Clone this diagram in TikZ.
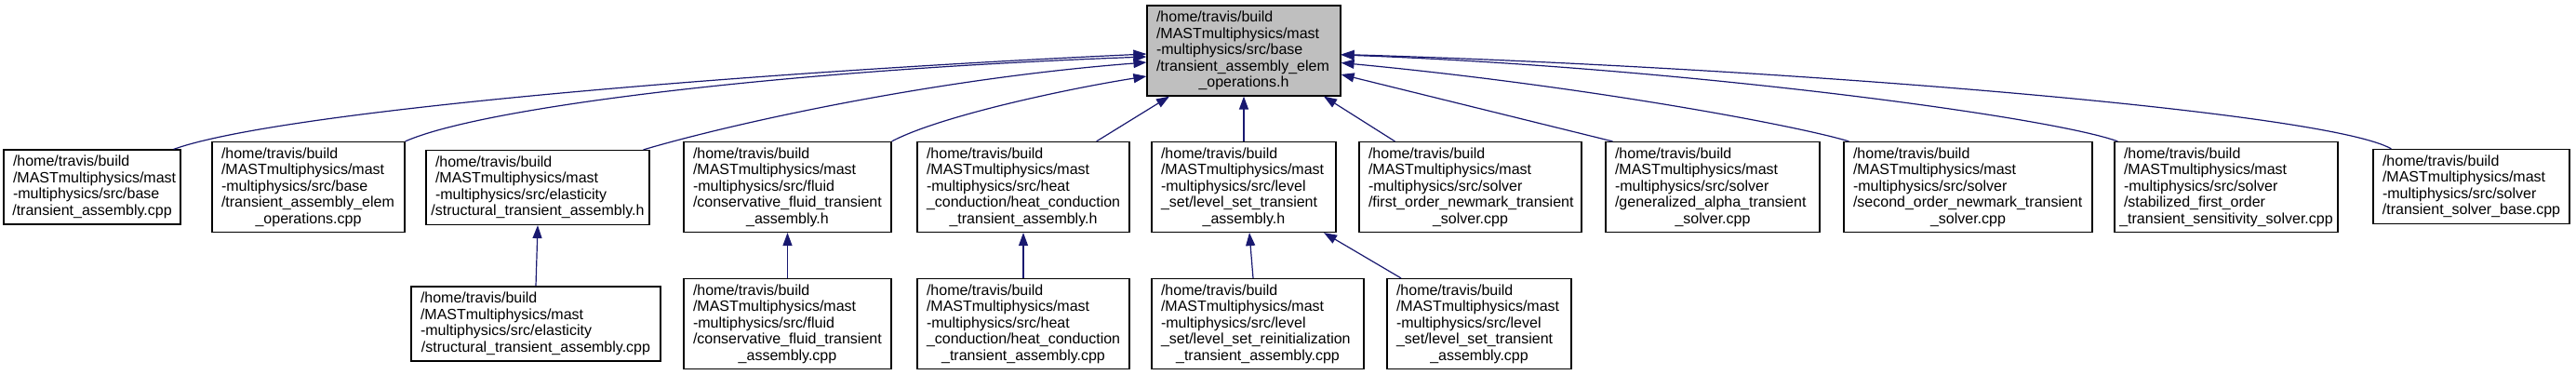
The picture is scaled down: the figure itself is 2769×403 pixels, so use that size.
\documentclass[tikz,border=0pt]{standalone}
\usepackage{fontspec}
\setmainfont{Liberation Sans}
\usetikzlibrary{arrows.meta}

\definecolor{edgeblue}{HTML}{191970}
\definecolor{rootgray}{HTML}{BFBFBF}

% common first lines of every file label
\newcommand{\mastsrc}{/home/travis/build\\/MASTmultiphysics/mast\\-multiphysics/src/}
\newcommand{\centerlast}[1]{\makebox[\linewidth]{#1}}

\begin{document}
\begin{tikzpicture}[
    x=1pt, y=-1pt,
    file/.style={draw, line width=1.2pt, inner xsep=10pt, inner ysep=0pt, align=left, font=\fontsize{16pt}{17.5pt}\selectfont},
    five/.style={file, minimum height=97pt},
    four/.style={file, minimum height=80pt},
    link/.style={<-, >={Triangle[length=14pt,width=10pt]}, draw=edgeblue, line width=1.2pt}
]
\useasboundingbox (0,0) rectangle (2769,403);

% the header itself
\node [five, fill=rootgray, text width=188pt] (root) at (1337,54.5)
    {\mastsrc base\\/transient\_assembly\_elem\\\centerlast{\_operations.h}};

% files that include it
\node [four, text width=170pt] (baseasm) at (99,201)
    {\mastsrc base\\\centerlast{/transient\_assembly.cpp}};
\node [five, text width=187pt] (baseops) at (331.5,201)
    {\mastsrc base\\/transient\_assembly\_elem\\\centerlast{\_operations.cpp}};
\node [four, text width=220pt] (elasth) at (578,201.5)
    {\mastsrc elasticity\\\centerlast{/structural\_transient\_assembly.h}};
\node [five, text width=203pt] (fluidh) at (846.5,201)
    {\mastsrc fluid\\/conservative\_fluid\_transient\\\centerlast{\_assembly.h}};
\node [five, text width=208pt] (heath) at (1100,201)
    {\mastsrc heat\\\_conduction/heat\_conduction\\\centerlast{\_transient\_assembly.h}};
\node [five, text width=178pt] (levelh) at (1337,201)
    {\mastsrc level\\\_set/level\_set\_transient\\\centerlast{\_assembly.h}};
\node [five, text width=219pt] (fonewmark) at (1580.5,201)
    {\mastsrc solver\\/first\_order\_newmark\_transient\\\centerlast{\_solver.cpp}};
\node [five, text width=210pt] (genalpha) at (1841,201)
    {\mastsrc solver\\/generalized\_alpha\_transient\\\centerlast{\_solver.cpp}};
\node [five, text width=247pt] (sonewmark) at (2115.5,201)
    {\mastsrc solver\\/second\_order\_newmark\_transient\\\centerlast{\_solver.cpp}};
\node [five, text width=220pt] (stabsens) at (2393,201)
    {\mastsrc solver\\/stabilized\_first\_order\\\centerlast{\_transient\_sensitivity\_solver.cpp}};
\node [four, text width=191pt] (solverbase) at (2656.5,200.5)
    {\mastsrc solver\\\centerlast{/transient\_solver\_base.cpp}};

% second level
\node [four, text width=248pt] (elastcpp) at (576,348)
    {\mastsrc elasticity\\\centerlast{/structural\_transient\_assembly.cpp}};
\node [five, text width=203pt] (fluidcpp) at (846.5,348)
    {\mastsrc fluid\\/conservative\_fluid\_transient\\\centerlast{\_assembly.cpp}};
\node [five, text width=208pt] (heatcpp) at (1100,348)
    {\mastsrc heat\\\_conduction/heat\_conduction\\\centerlast{\_transient\_assembly.cpp}};
\node [five, text width=208pt] (levelreinit) at (1352,348)
    {\mastsrc level\\\_set/level\_set\_reinitialization\\\centerlast{\_transient\_assembly.cpp}};
\node [five, text width=178pt] (levelcpp) at (1590,348)
    {\mastsrc level\\\_set/level\_set\_transient\\\centerlast{\_assembly.cpp}};

% include edges into the header
\draw[link] ([yshift=-3.5pt]root.west) .. controls +(-433,20) and +(114,-41) .. ([xshift=-8pt]baseasm.north east);
\draw[link] ([yshift=-6.5pt]root.west) .. controls +(-383,14) and +(85,-37.5) .. (baseops.north east);
\draw[link] ([yshift=-12.5pt]root.west) .. controls +(-233,18) and +(89,-26.5) .. ([xshift=-7pt]elasth.north east);
\draw[link] ([yshift=-27.5pt]root.west) .. controls +(-83,13) and +(52,-27.5) .. (fluidh.north east);
\draw[link] ([xshift=-80pt]root.south) -- ([xshift=-36pt]heath.north east);
\draw[link] (root.south) -- (levelh.north);
\draw[link] ([xshift=86pt]root.south) -- ([xshift=39pt]fonewmark.north west);
\draw[link] ([yshift=-25.5pt]root.east) -- ([xshift=8pt]genalpha.north west);
\draw[link] ([yshift=-13pt]root.east) .. controls +(259,24.5) and +(-58,-17.5) .. ([xshift=6pt]sonewmark.north west);
\draw[link] ([yshift=-4.5pt]root.east) .. controls +(359,13) and +(-77,-27.5) .. ([xshift=4pt]stabsens.north west);
\draw[link] ([yshift=-4pt]root.east) .. controls +(459,13.5) and +(-71,-40.5) .. ([xshift=20pt]solverbase.north west);

% second level edges
\draw[link] (elasth.south) -- (elastcpp.north);
\draw[link] (fluidh.south) -- (fluidcpp.north);
\draw[link] (heath.south) -- (heatcpp.north);
\draw[link] ([xshift=6pt]levelh.south) -- ([xshift=-5pt]levelreinit.north);
\draw[link] ([xshift=86pt]levelh.south) -- ([xshift=-84pt]levelcpp.north);

\end{tikzpicture}
\end{document}
